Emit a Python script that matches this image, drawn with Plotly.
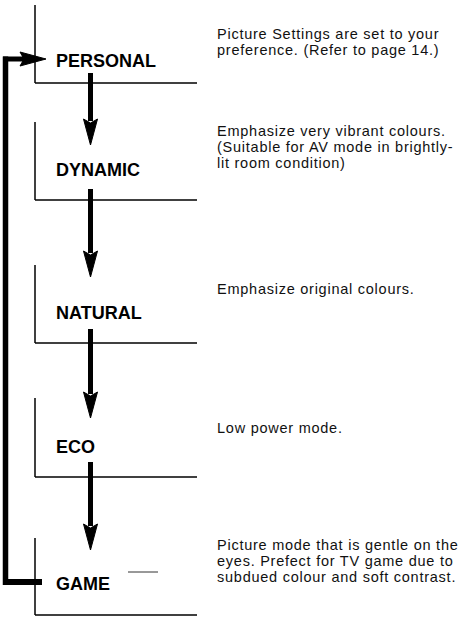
import plotly.graph_objects as go

# ---- content ----
modes = ["PERSONAL", "DYNAMIC", "NATURAL", "ECO", "GAME"]
descriptions = [
    ["Picture Settings are set to your", "preference. (Refer to page 14.)"],
    ["Emphasize very vibrant colours.", "(Suitable for AV mode in brightly-", "lit room condition)"],
    ["Emphasize original colours."],
    ["Low power mode."],
    ["Picture mode that is gentle on the", "eyes. Prefect for TV game due to", "subdued colour and soft contrast."],
]

# ---- layout positions (pixel space) ----
box_top = [5, 122, 265, 398, 538]
box_bottom = [83, 200, 343, 477, 615]
label_y = [61, 170, 313, 447, 584]
desc_first_y = [34, 131, 289, 428, 545]
desc_step = 16.2
arrow_start = [73, 189, 329, 462]
arrow_tip = [145, 277, 418, 550]

W, H = 460, 617
box_x = 35
line_right = 197
arrow_x = 90.5
desc_x = 215
label_x = 54
loop_x = 5.5

FONT = "Liberation Sans, Arial, Helvetica, sans-serif"
shapes = []
annotations = []

for i, m in enumerate(modes):
    shapes.append(dict(type="line", x0=box_x, x1=box_x, y0=box_top[i], y1=box_bottom[i],
                       line=dict(color="black", width=1.5)))
    shapes.append(dict(type="line", x0=box_x, x1=line_right, y0=box_bottom[i], y1=box_bottom[i],
                       line=dict(color="black", width=1.5)))
    annotations.append(dict(x=label_x, y=label_y[i], text="<b>%s</b>" % m, showarrow=False,
                            xanchor="left", yanchor="middle",
                            font=dict(family=FONT, size=18, color="black")))
    for j, line in enumerate(descriptions[i]):
        annotations.append(dict(x=desc_x, y=desc_first_y[i] + j * desc_step,
                                text='<span style="letter-spacing:0.75px">%s</span>' % line,
                                showarrow=False, xanchor="left", yanchor="middle",
                                font=dict(family=FONT, size=14.5, color="#111")))

# short scan line beside GAME
shapes.append(dict(type="line", x0=128, x1=158, y0=label_y[4] - 12, y1=label_y[4] - 12,
                   line=dict(color="#333", width=1)))

# down arrows
for s, t in zip(arrow_start, arrow_tip):
    head = t - 26
    shapes.append(dict(type="line", x0=arrow_x, x1=arrow_x, y0=s, y1=head + 2,
                       line=dict(color="black", width=5)))
    shapes.append(dict(type="path",
                       path="M %f %f L %f %f L %f %f L %f %f Z" % (arrow_x - 7, head, arrow_x, head + 4,
                                                                arrow_x + 7, head, arrow_x, t),
                       fillcolor="black", line=dict(color="black", width=1)))

# feedback loop from GAME back to PERSONAL
loop_top = label_y[0] - 2
loop_bottom = label_y[4] - 2
shapes.append(dict(type="line", x0=loop_x, x1=loop_x, y0=loop_top - 2.5, y1=loop_bottom + 3,
                   line=dict(color="black", width=5.5)))
shapes.append(dict(type="line", x0=loop_x - 2.5, x1=box_x + 7, y0=loop_bottom, y1=loop_bottom,
                   line=dict(color="black", width=6)))
shapes.append(dict(type="line", x0=loop_x - 2.5, x1=24, y0=loop_top, y1=loop_top,
                   line=dict(color="black", width=5)))
shapes.append(dict(type="path",
                   path="M %f %f L %f %f L %f %f L %f %f Z" % (20, loop_top - 7, 24, loop_top,
                                                            20, loop_top + 7, 46, loop_top),
                   fillcolor="black", line=dict(color="black", width=1)))

fig = go.Figure()
fig.update_layout(
    width=W, height=H,
    margin=dict(l=0, r=0, t=0, b=0),
    paper_bgcolor="white", plot_bgcolor="white",
    xaxis=dict(range=[0, W], visible=False, fixedrange=True),
    yaxis=dict(range=[H, 0], visible=False, fixedrange=True),
    shapes=shapes, annotations=annotations,
    showlegend=False,
)
fig.write_html("out.html", config={"displayModeBar": False},
               post_script="document.body.style.margin='0';document.body.style.overflow='hidden';")
